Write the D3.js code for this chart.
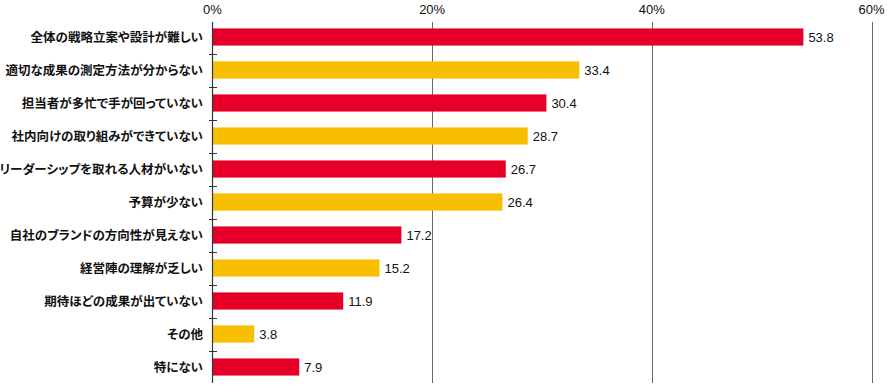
<!DOCTYPE html>
<html>
<head>
<meta charset="utf-8">
<script src="https://cdn.jsdelivr.net/npm/d3@7"></script>
<style>
    body { margin: 0; background: #fff; }
    text { font-family: "Liberation Sans", Arial, "Noto Sans CJK JP", sans-serif; }
    .cat { font-family: "Noto Sans CJK JP", sans-serif; font-weight: bold; font-feature-settings: "palt"; }
</style>
</head>
<body>
<svg id="chart" width="887" height="387"></svg>
<script>

// data
var categories = [
    "全体の戦略立案や設計が難しい",
    "適切な成果の測定方法が分からない",
    "担当者が多忙で手が回っていない",
    "社内向けの取り組みができていない",
    "リーダーシップを取れる人材がいない",
    "予算が少ない",
    "自社のブランドの方向性が見えない",
    "経営陣の理解が乏しい",
    "期待ほどの成果が出ていない",
    "その他",
    "特にない"
];
var values = [53.8, 33.4, 30.4, 28.7, 26.7, 26.4, 17.2, 15.2, 11.9, 3.8, 7.9];
var tickValues = [0, 20, 40, 60];
var colors = ["#e60027", "#f8bf00"];

var svg = d3.select("#chart");

var x = d3.scaleLinear().domain([0, 60]).range([212.5, 871.5]);
var y = d3.scaleBand().domain(categories).range([20.5, 383.5]).paddingInner(0.48).paddingOuter(0.24);

// vertical grid lines
svg.selectAll("line.grid")
    .data(tickValues.slice(1))
    .enter().append("line")
    .attr("class", "grid")
    .attr("x1", function (d) { return Math.round(x(d)) + 0.5; })
    .attr("x2", function (d) { return Math.round(x(d)) + 0.5; })
    .attr("y1", 22).attr("y2", 383)
    .attr("stroke", "#666")
    .attr("stroke-width", 1);

// top tick labels
svg.selectAll("text.tick")
    .data(tickValues)
    .enter().append("text")
    .attr("class", "tick")
    .attr("x", function (d) { return x(d); })
    .attr("y", 14)
    .attr("text-anchor", "middle")
    .attr("font-size", "13px")
    .attr("fill", "#111")
    .text(function (d) { return d + "%"; });

// bars
svg.selectAll("rect.bar")
    .data(values)
    .enter().append("rect")
    .attr("class", "bar")
    .attr("x", x(0))
    .attr("y", function (d, i) { return y(categories[i]); })
    .attr("width", function (d) { return x(d) - x(0); })
    .attr("height", y.bandwidth())
    .attr("fill", function (d, i) { return colors[i % 2]; });

// value labels
svg.selectAll("text.val")
    .data(values)
    .enter().append("text")
    .attr("class", "val")
    .attr("x", function (d) { return x(d) + 5; })
    .attr("y", function (d, i) { return y(categories[i]) + y.bandwidth() / 2; })
    .attr("dy", "0.36em")
    .attr("font-size", "13px")
    .attr("fill", "#111")
    .text(function (d) { return d.toFixed(1); });

// category labels
svg.selectAll("text.cat")
    .data(categories)
    .enter().append("text")
    .attr("class", "cat")
    .attr("x", 203)
    .attr("y", function (d) { return y(d) + y.bandwidth() / 2; })
    .attr("dy", "0.36em")
    .attr("text-anchor", "end")
    .attr("font-size", "12.5px")
    .attr("fill", "#111")
    .text(function (d) { return d; });

// left axis line and separator ticks
svg.append("line")
    .attr("x1", 212.5).attr("x2", 212.5)
    .attr("y1", 22).attr("y2", 383)
    .attr("stroke", "#333")
    .attr("stroke-width", 1.2);

var step = y.step();
svg.selectAll("line.sep")
    .data(categories.slice(1))
    .enter().append("line")
    .attr("class", "sep")
    .attr("x1", 209).attr("x2", 217)
    .attr("y1", function (d) { return Math.round(y(d) - y.paddingInner() * step / 2) + 0.5; })
    .attr("y2", function (d) { return Math.round(y(d) - y.paddingInner() * step / 2) + 0.5; })
    .attr("stroke", "#333")
    .attr("stroke-width", 1);

</script>
</body>
</html>
